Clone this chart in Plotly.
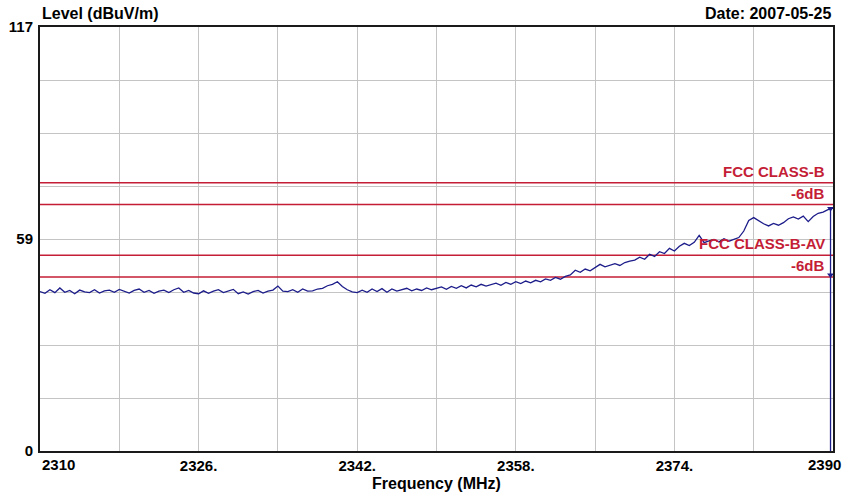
import plotly.graph_objects as go

# ---- data ----
FREQ_START = 2310.0
FREQ_STEP = 0.5
LEVEL = [
    44.0, 43.5, 44.5, 43.7, 45.0, 43.8, 44.3, 43.4, 44.4, 43.9,
    43.7, 44.5, 43.6, 44.2, 44.4, 43.8, 44.6, 44.0, 43.6, 44.3,
    44.7, 43.8, 44.3, 43.5, 44.1, 44.4, 43.7, 44.5, 45.0, 43.8,
    44.3, 43.6, 43.4, 44.2, 43.5, 44.1, 44.5, 43.7, 44.2, 44.6,
    43.4, 43.9, 43.3, 44.0, 44.3, 43.6, 44.1, 44.4, 45.5, 44.1,
    44.0, 44.5, 43.8, 44.7, 44.1, 44.2, 44.7, 44.9, 45.6, 46.0,
    46.7, 45.4, 44.5, 43.9, 43.7, 44.4, 43.8, 44.7, 44.0, 44.8,
    43.8, 44.7, 44.1, 44.6, 44.9, 44.2, 44.7, 44.3, 45.0, 44.5,
    44.9, 45.3, 44.6, 45.4, 44.9, 45.6, 45.0, 45.8, 45.3, 46.0,
    45.5, 46.0, 46.3, 45.7, 46.5, 46.0, 46.7, 46.2, 46.9, 46.4,
    47.1, 46.7, 47.5, 47.1, 47.9, 47.4, 48.2, 48.6, 49.9, 49.3,
    50.2, 49.7, 50.7, 51.5, 50.8, 51.3, 51.7, 51.2, 52.0, 52.4,
    52.7, 53.5, 52.9, 54.3, 53.7, 55.0, 54.5, 55.9, 55.2, 56.5,
    57.3, 56.7, 57.6, 59.5, 57.5, 58.0, 58.4, 57.7, 58.6, 57.9,
    58.5, 58.9, 60.7, 63.6, 64.4, 63.5, 62.7, 62.1, 62.8, 62.3,
    63.0, 64.1, 64.6, 64.0, 64.8, 63.3, 64.7, 65.6, 65.9, 66.6,
]
TAIL_FREQ = [2389.75, 2389.75]
TAIL_LEVEL = [66.9, 0.0]

LIMIT_NAMES = ["FCC CLASS-B", "-6dB", "FCC CLASS-B-AV", "-6dB"]
LIMIT_LEVELS = [74, 68, 54, 48]

MARKER_FREQ = [2389.75, 2389.75]
MARKER_LEVEL = [66.9, 48.6]

X_MIN, X_MAX = 2310, 2390
Y_MIN, Y_MAX = 0, 117
X_GRID = [2310, 2318, 2326, 2334, 2342, 2350, 2358, 2366, 2374, 2382, 2390]
X_LABELS = ["", "", "2326.", "", "2342.", "", "2358.", "", "2374.", "", ""]
Y_GRID = [0, 14.625, 29.25, 43.875, 58.5, 73.125, 87.75, 102.375, 117]
Y_LABELS = ["0", "", "", "", "59", "", "", "", "117"]

freq = [FREQ_START + i * FREQ_STEP for i in range(len(LEVEL))] + TAIL_FREQ
level = LEVEL + TAIL_LEVEL

FONT = "Liberation Sans, Arial, sans-serif"
RED = "#c41e36"
BLUE = "#1c1c8a"

fig = go.Figure()

for lv in LIMIT_LEVELS:
    fig.add_trace(go.Scatter(x=[X_MIN, X_MAX], y=[lv, lv], mode="lines",
                             line=dict(color=RED, width=1.5), hoverinfo="skip",
                             showlegend=False))

fig.add_trace(go.Scatter(x=freq, y=level, mode="lines",
                         line=dict(color=BLUE, width=1.3), showlegend=False))
fig.add_trace(go.Scatter(x=MARKER_FREQ, y=MARKER_LEVEL, mode="markers",
                         marker=dict(color=BLUE, size=6, symbol="triangle-down"),
                         showlegend=False))

annotations = []
for name, lv in zip(LIMIT_NAMES, LIMIT_LEVELS):
    annotations.append(dict(x=X_MAX, y=lv, xref="x", yref="y", text=name,
                            showarrow=False, xanchor="right", yanchor="bottom",
                            xshift=-6, yshift=1,
                            font=dict(family=FONT, size=15, color=RED, weight="bold")))

TF = dict(family=FONT, size=16, color="black", weight="bold")
annotations += [
    dict(x=0, y=1, xref="paper", yref="paper", text="Level (dBuV/m)", showarrow=False,
         xanchor="left", yanchor="middle", yshift=14, font=TF),
    dict(x=1, y=1, xref="paper", yref="paper", text="Date: 2007-05-25", showarrow=False,
         xanchor="right", yanchor="middle", yshift=14, font=TF),
    dict(x=0.5, y=0, xref="paper", yref="paper", text="Frequency (MHz)", showarrow=False,
         xanchor="center", yanchor="middle", yshift=-32, font=TF),
    dict(x=X_MIN, y=0, xref="x", yref="paper", text="2310", showarrow=False,
         xanchor="left", yanchor="middle", yshift=-13,
         font=dict(family=FONT, size=15, color="black", weight="bold")),
    dict(x=X_MAX, y=0, xref="x", yref="paper", text="2390", showarrow=False,
         xanchor="right", yanchor="middle", yshift=-13, xshift=10,
         font=dict(family=FONT, size=15, color="black", weight="bold")),
]

fig.update_layout(
    width=845, height=495,
    margin=dict(l=40, r=12, t=27, b=44, autoexpand=False),
    paper_bgcolor="white", plot_bgcolor="white",
    annotations=annotations,
    showlegend=False,
)
fig.update_xaxes(range=[X_MIN, X_MAX], tickmode="array", tickvals=X_GRID, ticktext=X_LABELS,
                 showgrid=True, gridcolor="#c4c4c4", gridwidth=1, automargin=False,
                 showline=True, linecolor="#1a1a1a", linewidth=2, mirror=True,
                 ticks="", zeroline=False,
                 tickfont=dict(family=FONT, size=15, color="black", weight="bold"))
fig.update_yaxes(range=[Y_MIN, Y_MAX], tickmode="array", tickvals=Y_GRID, ticktext=Y_LABELS,
                 showgrid=True, gridcolor="#c4c4c4", gridwidth=1, automargin=False,
                 showline=True, linecolor="#1a1a1a", linewidth=2, mirror=True,
                 ticks="", zeroline=False, ticklabelstandoff=2,
                 tickfont=dict(family=FONT, size=15, color="black", weight="bold"))

fig.write_html("out.html", config={"displayModeBar": False},
               post_script="document.body.style.margin='0';document.body.style.overflow='hidden';")
